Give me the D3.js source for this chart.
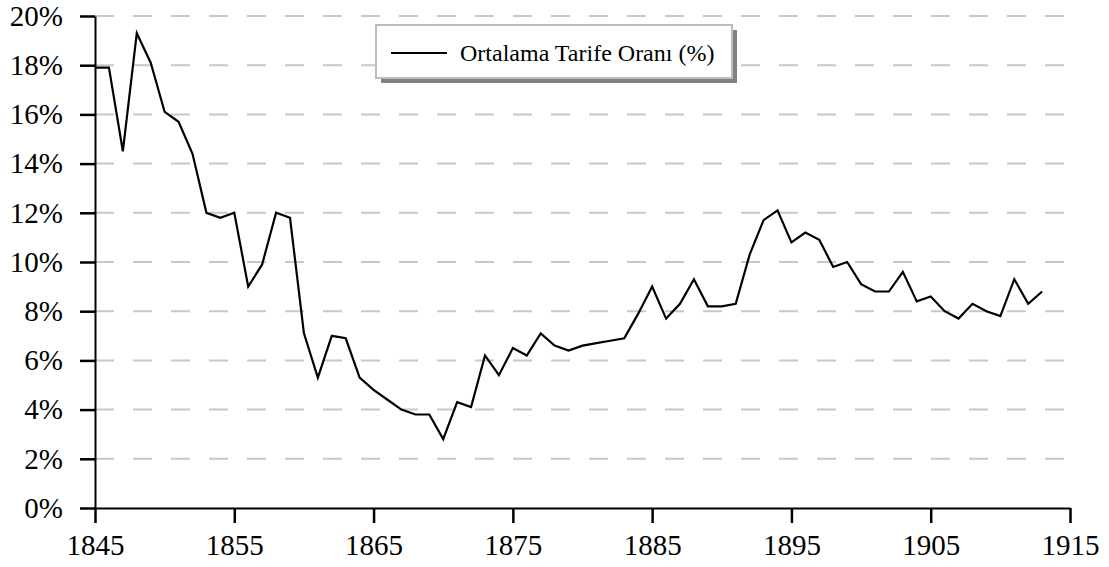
<!DOCTYPE html>
<html>
<head>
<meta charset="utf-8">
<script src="https://cdn.jsdelivr.net/npm/d3@7"></script>
<style>
  body { margin: 0; background: #fff; }
  .axis path, .axis line { stroke: #000; stroke-width: 2; }
  .grid line { stroke: #c8c8c8; stroke-width: 2; stroke-dasharray: 19,19; }
</style>
</head>
<body>
<svg width="1109" height="567"></svg>
<script>
var years = [1845,1846,1847,1848,1849,1850,1851,1852,1853,1854,
	1855,1856,1857,1858,1859,1860,1861,1862,1863,1864,
	1865,1866,1867,1868,1869,1870,1871,1872,1873,1874,
	1875,1876,1877,1878,1879,1880,1881,1882,1883,1884,
	1885,1886,1887,1888,1889,1890,1891,1892,1893,1894,
	1895,1896,1897,1898,1899,1900,1901,1902,1903,1904,
	1905,1906,1907,1908,1909,1910,1911,1912,1913];

var tariff = [17.9,17.9,14.5,19.3,18.1,16.1,15.7,14.4,12.0,11.8,
	12.0,9.0,9.9,12.0,11.8,7.1,5.3,7.0,6.9,5.3,
	4.8,4.4,4.0,3.8,3.8,2.8,4.3,4.1,6.2,5.4,
	6.5,6.2,7.1,6.6,6.4,6.6,6.7,6.8,6.9,7.9,
	9.0,7.7,8.3,9.3,8.2,8.2,8.3,10.3,11.7,12.1,
	10.8,11.2,10.9,9.8,10.0,9.1,8.8,8.8,9.6,8.4,
	8.6,8.0,7.7,8.3,8.0,7.8,9.3,8.3,8.8];

var xTicks = [1845,1855,1865,1875,1885,1895,1905,1915];
var yTicks = [0,2,4,6,8,10,12,14,16,18,20];
var seriesName = "Ortalama Tarife Oranı (%)";

var serif = "'Liberation Serif', 'Times New Roman', serif";

var svg = d3.select("svg"),
		margin = {top: 16, right: 39, bottom: 59, left: 95},
		width = svg.attr("width") - margin.left - margin.right,
		height = svg.attr("height") - margin.top - margin.bottom,
		g = svg.append("g").attr("transform", "translate(" + margin.left + "," + margin.top + ")");

var x = d3.scaleLinear().domain([1845, 1915]).range([0, width]),
		y = d3.scaleLinear().domain([0, 20]).range([height, 0]);

var data = years.map(function(yr, i) { return {year: yr, rate: tariff[i]}; });

// dashed horizontal grid
g.append("g")
		.attr("class", "grid")
	.selectAll("line")
	.data(yTicks.filter(function(d) { return d > 0; }))
	.enter().append("line")
		.attr("x1", 0)
		.attr("x2", width)
		.attr("y1", function(d) { return y(d); })
		.attr("y2", function(d) { return y(d); });

var line = d3.line()
		.x(function(d) { return x(d.year); })
		.y(function(d) { return y(d.rate); });

g.append("path")
		.datum(data)
		.attr("fill", "none")
		.attr("stroke", "#000")
		.attr("stroke-width", 2.2)
		.attr("d", line);

var xAxis = g.append("g")
		.attr("class", "axis axis--x")
		.attr("transform", "translate(0," + height + ")")
		.call(d3.axisBottom(x).tickValues(xTicks).tickFormat(d3.format("d"))
			.tickSize(15).tickSizeOuter(0).tickPadding(11));

var yAxis = g.append("g")
		.attr("class", "axis axis--y")
		.call(d3.axisLeft(y).tickValues(yTicks).tickFormat(function(d) { return d + "%"; })
			.tickSize(15).tickSizeOuter(0).tickPadding(17));

[xAxis, yAxis].forEach(function(a) {
	a.attr("font-family", serif).attr("font-size", 29);
	a.selectAll("text")
			.style("font-family", serif)
			.style("font-size", "29px")
			.style("fill", "#000");
	a.selectAll("line").style("stroke-width", 2.5);
});

// legend
var legend = svg.append("g").attr("transform", "translate(376,25)");
legend.append("rect")
		.attr("x", 5).attr("y", 5)
		.attr("width", 356).attr("height", 53)
		.attr("fill", "#808080");
legend.append("rect")
		.attr("width", 356).attr("height", 53)
		.attr("fill", "#fff")
		.attr("stroke", "#bdbdbd")
		.attr("stroke-width", 2);
legend.append("line")
		.attr("x1", 15).attr("x2", 71)
		.attr("y1", 28).attr("y2", 28)
		.attr("stroke", "#000").attr("stroke-width", 2);
legend.append("text")
		.attr("x", 84).attr("y", 28)
		.attr("dy", "0.35em")
		.style("font-family", serif)
		.style("font-size", "24px")
		.text(seriesName);
</script>
</body>
</html>
